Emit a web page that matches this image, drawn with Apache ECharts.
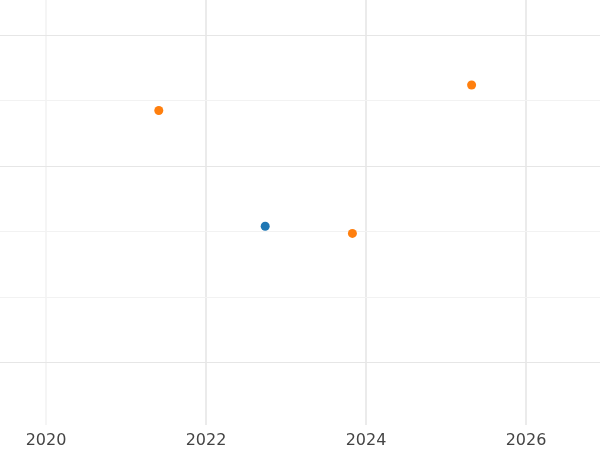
<!DOCTYPE html>
<html>
<head>
<meta charset="UTF-8">
<script src="https://cdn.jsdelivr.net/npm/echarts@6/dist/echarts.min.js"></script>
</head>
<body style="margin:0">
<div id="c" style="width:600px;height:450px"></div>
<script>
var blueSeries = [[2022.74, 2.08]];
var orangeSeries = [[2021.41, 3.85], [2023.83, 1.97], [2025.32, 4.24]];
var xTicks = [2020, 2022, 2024, 2026];
var xMajor = [2022, 2024, 2026];
var xMinor = [2020];
var yMajor = [0, 3, 5];
var yMinor = [1, 2, 4];

function lines(vals, key, color) {
  return vals.map(function (v) {
    var o = { lineStyle: { color: color, width: key === 'x' ? 2 : 1.2, type: 'solid' } };
    o[key === 'x' ? 'xAxis' : 'yAxis'] = v;
    return o;
  });
}

var chart = echarts.init(document.getElementById('c'));
chart.setOption({
  animation: false,
  backgroundColor: '#fff',
  grid: { left: 0, right: 0, top: 0, bottom: 25 },
  xAxis: {
    type: 'value', min: 2019.425, max: 2026.925,
    splitLine: { show: false }, axisLine: { show: false }, axisTick: { show: false },
    axisLabel: { customValues: xTicks, formatter: function (v) { return String(v); },
      color: '#444', fontSize: 16, margin: 8, fontFamily: 'DejaVu Sans' }
  },
  yAxis: {
    type: 'value', min: -0.96, max: 5.54,
    splitLine: { show: false }, axisLine: { show: false }, axisTick: { show: false },
    axisLabel: { show: false }
  },
  series: [
    {
      type: 'scatter', data: blueSeries, symbolSize: 9, itemStyle: { color: '#1f77b4', opacity: 1 }, z: 5,
      markLine: {
        silent: true, symbol: 'none', label: { show: false }, z: 1,
        data: lines(xMajor, 'x', '#ebebeb').concat(lines(xMinor, 'x', '#f5f5f5'))
          .concat(lines(yMajor, 'y', '#e6e6e6')).concat(lines(yMinor, 'y', '#f2f2f2'))
      }
    },
    { type: 'scatter', data: orangeSeries, symbolSize: 9, itemStyle: { color: '#ff7f0e', opacity: 1 }, z: 5 }
  ]
});
</script>
</body>
</html>
